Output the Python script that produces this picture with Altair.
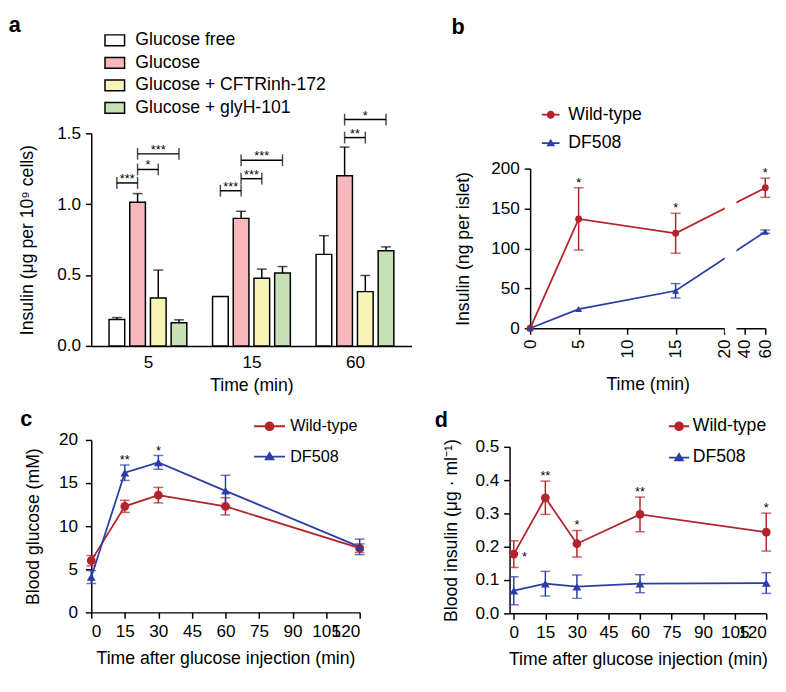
import json
import altair as alt
import pandas as pd

FONT = "Liberation Sans"
RED = "#b2232b"
BLUE = "#2b3ca6"
SERIES = ["Wild-type", "DF508"]

# ---------------- panel a : insulin secretion from cells ----------------
A_TIMES = ["5", "15", "60"]
A_GROUPS = ["Glucose free", "Glucose", "Glucose + CFTRinh-172", "Glucose + glyH-101"]
A_FILLS = ["#ffffff", "#f7b7bb", "#f8f4b6", "#c5e1b5"]
A_FREE = [0.186, 0.349, 0.646]
A_FREE_UP = [0.200, 0.349, 0.778]
A_GLU = [1.013, 0.900, 1.200]
A_GLU_UP = [1.075, 0.950, 1.403]
A_CFTR = [0.338, 0.478, 0.383]
A_CFTR_UP = [0.535, 0.542, 0.497]
A_GLYH = [0.163, 0.515, 0.671]
A_GLYH_UP = [0.184, 0.560, 0.699]
# significance brackets: time index, from bar, to bar, height, label
A_BR_TIME = [0, 0, 0, 1, 1, 1, 2, 2]
A_BR_FROM = [0, 1, 1, 0, 1, 1, 1, 1]
A_BR_TO = [1, 2, 3, 1, 2, 3, 2, 3]
A_BR_LEVEL = [1.150, 1.245, 1.355, 1.095, 1.180, 1.310, 1.470, 1.597]
A_BR_LABEL = ["***", "*", "***", "***", "***", "***", "**", "*"]

# ---------------- panel b : islets ----------------
B_TIME = [0, 5, 15, 60]
B_WT = [0, 137, 119, 176]
B_WT_ERR = [0, 39, 25, 12]
B_DF = [0, 24, 47, 121]
B_DF_ERR = [0, 0, 9, 2]
B_WT_STARS = ["", "*", "*", "*"]
B_DF_STARS = ["", "", "", ""]

# ---------------- panel c : blood glucose ----------------
C_TIME = [0, 15, 30, 60, 120]
C_WT = [6.0, 12.3, 13.6, 12.3, 7.45]
C_WT_ERR = [0.6, 0.7, 0.9, 1.0, 0.5]
C_DF = [4.1, 16.2, 17.4, 14.1, 7.6]
C_DF_ERR = [0.75, 0.9, 0.8, 1.8, 0.9]
C_WT_STARS = ["", "", "", "", ""]
C_DF_STARS = ["", "**", "*", "", ""]

# ---------------- panel d : blood insulin ----------------
D_TIME = [0, 15, 30, 60, 120]
D_WT = [0.178, 0.347, 0.209, 0.297, 0.244]
D_WT_ERR = [0.040, 0.050, 0.040, 0.052, 0.057]
D_DF = [0.068, 0.089, 0.080, 0.089, 0.091]
D_DF_ERR = [0.042, 0.037, 0.035, 0.027, 0.031]
D_WT_STARS = ["*", "**", "*", "**", "*"]
D_DF_STARS = ["", "", "", "", ""]

# layout / style constants
BAR_STRIDE = 0.2
B_BREAK = [20.6, 32.0]
B_H, B_TOP = 199, 36     # panel b plot height and empty band above its y range
D_H, D_TOP = 177, 7      # panel d likewise


def legend_paths(half, r):
    bar = f"M-{half},-0.1H{half}V0.1H-{half}Z"
    circ = f"{bar}M{r},0A{r},{r},0,1,1,-{r},0A{r},{r},0,1,1,{r},0Z"
    tri = f"{bar}M0,-{r * 1.1:.2f}L{r * 1.1:.2f},{r * 0.75:.2f}H-{r * 1.1:.2f}Z"
    return [circ, tri]


RECT_PATH = "M-1,-0.55H1V0.55H-1Z"
INDEP = dict(color="independent", fill="independent", stroke="independent",
             shape="independent")


def letter(t, offset, dx):
    return alt.TitleParams(text=t, anchor="start", fontSize=22, fontWeight="bold",
                           font=FONT, color="black", offset=offset, dx=dx)


# ---------- panel a ----------
rows = []
for gi, (g, m, u) in enumerate(zip(A_GROUPS, [A_FREE, A_GLU, A_CFTR, A_GLYH],
                                   [A_FREE_UP, A_GLU_UP, A_CFTR_UP, A_GLYH_UP])):
    for ti, t in enumerate(A_TIMES):
        rows.append(dict(group=g, gi=gi, time=t, ti=ti, mean=m[ti], upper=u[ti]))
df_a = pd.DataFrame(rows)
df_br = pd.DataFrame(dict(bt=A_BR_TIME, bf=A_BR_FROM, bto=A_BR_TO,
                          level=A_BR_LEVEL, label=A_BR_LABEL))

xs_a = alt.Scale(domain=[-0.5, 2.5], nice=False, zero=False)
ys_a = alt.Scale(domain=[0, 1.5], nice=False)
ax_a = alt.Axis(values=[0, 1, 2], labelExpr=json.dumps(A_TIMES) + "[datum.value]",
                ticks=False, tickSize=0, labelPadding=8, title="Time (min)", titlePadding=6)
ay_a = alt.Axis(values=[0, 0.5, 1.0, 1.5], format=".1f",
                title="Insulin (μg per 10⁹ cells)", titlePadding=21)
leg_a = alt.Legend(orient="none", legendX=13, legendY=-106, title=None,
                   symbolType=RECT_PATH, symbolSize=400, symbolStrokeColor="black",
                   symbolStrokeWidth=1.5, labelFontSize=18, labelFont=FONT,
                   labelColor="black", rowPadding=3, labelOffset=10, labelLimit=400)

base_a = alt.Chart(df_a).transform_calculate(
    pos=f"datum.ti + (datum.gi - 1.5) * {BAR_STRIDE}")
bars = base_a.mark_bar(size=16, stroke="black", strokeWidth=1.5, orient="vertical").encode(
    x=alt.X("pos:Q", scale=xs_a, axis=ax_a),
    y=alt.Y("mean:Q", scale=ys_a, axis=ay_a),
    color=alt.Color("group:N", scale=alt.Scale(domain=A_GROUPS, range=A_FILLS), legend=leg_a),
)
err_a = base_a.transform_filter("datum.upper > datum.mean").mark_rule(
    color="black", strokeWidth=1.5).encode(
    x=alt.X("pos:Q", scale=xs_a, axis=ax_a),
    y=alt.Y("mean:Q", scale=ys_a, axis=ay_a), y2="upper:Q")
cap_a = base_a.transform_filter("datum.upper > datum.mean").mark_tick(
    orient="horizontal", size=10, thickness=1.5, color="black").encode(
    x=alt.X("pos:Q", scale=xs_a, axis=ax_a),
    y=alt.Y("upper:Q", scale=ys_a, axis=ay_a))

base_br = alt.Chart(df_br).transform_calculate(
    pos=f"datum.bt + (datum.bf - 1.5) * {BAR_STRIDE}",
    pos2=f"datum.bt + (datum.bto - 1.5) * {BAR_STRIDE}",
).transform_calculate(mid="(datum.pos + datum.pos2) / 2")
br_line = base_br.mark_rule(color="black", strokeWidth=1.5).encode(
    x=alt.X("pos:Q", scale=xs_a, axis=ax_a), x2="pos2:Q",
    y=alt.Y("level:Q", scale=ys_a, axis=ay_a))
br_ends = base_br.transform_fold(["pos", "pos2"], as_=["end", "endpos"]).mark_tick(
    orient="vertical", size=12, thickness=1.5, color="black").encode(
    x=alt.X("endpos:Q", scale=xs_a, axis=ax_a),
    y=alt.Y("level:Q", scale=ys_a, axis=ay_a))
br_text = base_br.mark_text(fontSize=13, font=FONT, color="black",
                            baseline="alphabetic", dy=0).encode(
    x=alt.X("mid:Q", scale=xs_a, axis=ax_a),
    y=alt.Y("level:Q", scale=ys_a, axis=ay_a), text="label:N")

panel_a = alt.layer(bars, err_a, cap_a, br_line, br_ends, br_text).properties(
    width=327, height=217, title=letter("a", -8, -10))


# ---------- generic line panels ----------
def series_df(times, wt, wt_err, dfm, df_err, wt_st, df_st):
    rr = []
    for name, m, e, s in ((SERIES[0], wt, wt_err, wt_st), (SERIES[1], dfm, df_err, df_st)):
        for t, mv, ev, sv in zip(times, m, e, s):
            rr.append(dict(series=name, t=t, mean=mv, lo=mv - ev, hi=mv + ev, err=ev, star=sv))
    return pd.DataFrame(rr)


def series_legend(lx, ly, fs, rowpad, loff):
    return alt.Legend(
        orient="none", legendX=lx, legendY=ly, title=None, symbolSize=324,
        labelFontSize=fs, labelFont=FONT, labelColor="black", rowPadding=rowpad,
        labelOffset=loff, symbolStrokeWidth=0, symbolStrokeColor="transparent",
        symbolOpacity=1, labelLimit=300)


def series_panel(df, xs, xaxis, ys, yaxis, leg, paths, msize, width, height, title,
                 star_side=False, extra=None):
    base = alt.Chart(df)
    X = alt.X("t:Q", scale=xs, axis=xaxis)
    cscale = alt.Scale(domain=SERIES, range=[RED, BLUE])
    C = alt.Color("series:N", scale=cscale, legend=None)

    def Y(f):
        return alt.Y(f, scale=ys, axis=yaxis)

    legend_layer = base.mark_point(filled=True, opacity=0).encode(
        x=X, y=Y("mean:Q"),
        color=alt.Color("series:N", scale=cscale, legend=leg),
        shape=alt.Shape("series:N", scale=alt.Scale(domain=SERIES, range=paths), legend=leg))
    line = base.mark_line(strokeWidth=1.8).encode(x=X, y=Y("mean:Q"), color=C)
    rule = base.transform_filter("datum.err > 0").mark_rule(strokeWidth=1.5).encode(
        x=X, y=Y("lo:Q"), y2="hi:Q", color=C)
    caps = base.transform_filter("datum.err > 0").transform_fold(
        ["lo", "hi"], as_=["end", "v"]).mark_tick(
        orient="horizontal", size=10, thickness=1.5).encode(x=X, y=Y("v:Q"), color=C)
    pts_wt = base.transform_filter(f"datum.series === '{SERIES[0]}'").mark_point(
        filled=True, size=msize, opacity=1, shape="circle").encode(
        x=X, y=Y("mean:Q"), color=C)
    pts_df = base.transform_filter(f"datum.series === '{SERIES[1]}'").mark_point(
        filled=True, size=msize, opacity=1, shape="triangle-up").encode(
        x=X, y=Y("mean:Q"), color=C)
    cond = "datum.star != ''" + (" && datum.t > 0" if star_side else "")
    stars = base.transform_filter(cond).mark_text(
        fontSize=13, font=FONT, color="black", baseline="alphabetic", dy=-1).encode(
        x=X, y=Y("hi:Q"), text="star:N")
    layers = [legend_layer, line]
    if extra is not None:
        layers.append(extra(X, Y))
    layers += [rule, caps, pts_wt, pts_df, stars]
    if star_side:
        side = base.transform_filter("datum.star != '' && datum.t == 0").mark_text(
            fontSize=13, font=FONT, color="black", baseline="alphabetic", dx=11, dy=7).encode(
            x=X, y=Y("mean:Q"), text="star:N")
        layers.append(side)
    return alt.layer(*layers).properties(width=width, height=height, title=title)


# ---------- panel b ----------
df_b = series_df(B_TIME, B_WT, B_WT_ERR, B_DF, B_DF_ERR, B_WT_STARS, B_DF_STARS)
xs_b = alt.Scale(domain=[0, 20, 40, 60], range=[0, 198, 219, 240], nice=False, zero=False)
ax_b = alt.Axis(values=[0, 5, 10, 15, 20, 40, 60], labelAngle=270, title="Time (min)",
                titlePadding=18, labelOverlap=False)
ys_b = alt.Scale(domain=[0, 200], nice=False, range=[B_H, B_TOP])
ay_b = alt.Axis(values=[0, 50, 100, 150, 200], title="Insulin (ng per islet)", titlePadding=19,
                titleY=(B_H + B_TOP) / 2)
df_break = pd.DataFrame(dict(t=[B_BREAK[0]], t2=[B_BREAK[1]], mean=[-6], mean2=[200]))


def break_layer(X, Y):
    return alt.Chart(df_break).mark_rect(color="white").encode(
        x=X, x2="t2:Q", y=Y("mean:Q"), y2="mean2:Q")


panel_b = series_panel(df_b, xs_b, ax_b, ys_b, ay_b, series_legend(12, -64 + B_TOP, 18, 11, 9),
                       legend_paths(1, 0.45), 50, 240, B_H, letter("b", 68, -3),
                       extra=break_layer)

# ---------- panel c ----------
df_c = series_df(C_TIME, C_WT, C_WT_ERR, C_DF, C_DF_ERR, C_WT_STARS, C_DF_STARS)
xs_c = alt.Scale(domain=[0, 120], nice=False, zero=False)
ax_c = alt.Axis(values=list(range(0, 121, 15)), title="Time after glucose injection (min)",
                titlePadding=10, labelOverlap=False)
ys_c = alt.Scale(domain=[0, 20], nice=False)
ay_c = alt.Axis(values=[0, 5, 10, 15, 20], title="Blood glucose (mM)", titlePadding=16,
                labelPadding=8)
panel_c = series_panel(df_c, xs_c, ax_c, ys_c, ay_c, series_legend(173, -23, 16.5, 13, 12),
                       legend_paths(1.75, 0.55), 80, 274, 176, letter("c", -14, -5))

# ---------- panel d ----------
df_d = series_df(D_TIME, D_WT, D_WT_ERR, D_DF, D_DF_ERR, D_WT_STARS, D_DF_STARS)
xs_d = alt.Scale(domain=[-2, 120], nice=False, zero=False)
ax_d = alt.Axis(values=list(range(0, 121, 15)), title="Time after glucose injection (min)",
                titlePadding=10, labelOverlap=False)
ys_d = alt.Scale(domain=[0, 0.5], nice=False, range=[D_H, D_TOP])
ay_d = alt.Axis(values=[0, 0.1, 0.2, 0.3, 0.4, 0.5], format=".1f",
                title="Blood insulin (μg · ml⁻¹)", titlePadding=15, titleY=(D_H + D_TOP) / 2)
panel_d = series_panel(df_d, xs_d, ax_d, ys_d, ay_d, series_legend(164, -30 + D_TOP, 18, 14, 5),
                       legend_paths(1.15, 0.55), 80, 262, D_H, letter("d", -15, -8),
                       star_side=True)

row1 = alt.concat(panel_a, panel_b, columns=2, spacing=40, align="none").resolve_scale(
    **INDEP).resolve_legend(**INDEP)
row2 = alt.concat(panel_c, panel_d, columns=2, spacing=71, align="none").resolve_scale(
    **INDEP).resolve_legend(**INDEP)
chart = alt.concat(row1, row2, columns=1, spacing=14, align="none").resolve_scale(
    **INDEP).resolve_legend(**INDEP).properties(
    padding={"left": 0, "top": 0, "right": 4, "bottom": 0}).configure_view(
    stroke=None).configure_axis(
    domainColor="black", domainWidth=1.5, tickColor="black", tickWidth=1.5, tickSize=6,
    labelFont=FONT, labelFontSize=17.5, labelColor="black", labelPadding=5,
    titleFont=FONT, titleFontSize=18, titleFontWeight="normal", titleColor="black",
    grid=False).configure_legend(labelFont=FONT)

chart.save("out.html", embed_options={"renderer": "svg", "actions": False})
